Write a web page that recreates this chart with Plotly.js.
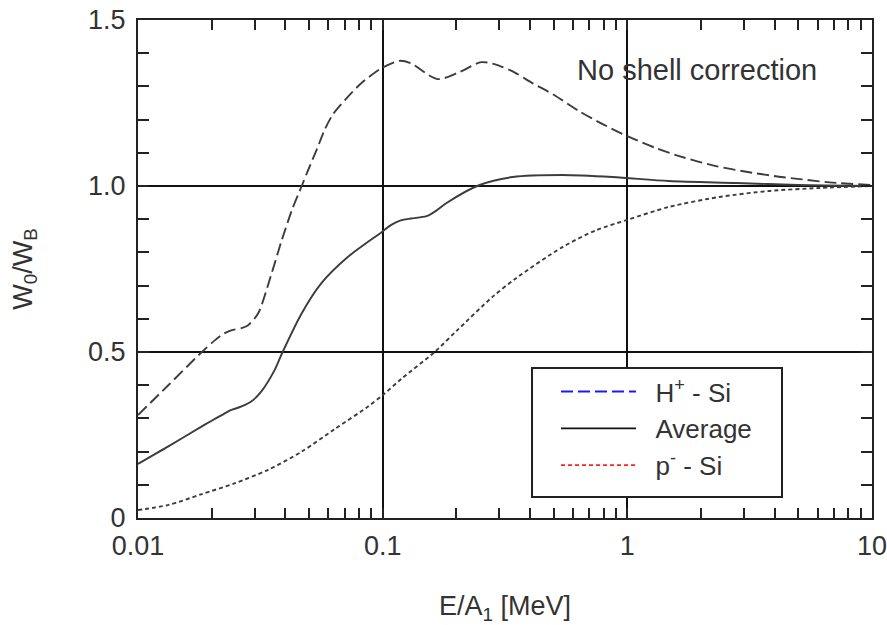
<!DOCTYPE html>
<html><head><meta charset="utf-8">
<script src="https://cdn.plot.ly/plotly-3.0.1.min.js"></script>
<style>body{margin:0;background:#fff}#chart{width:887px;height:625px}</style>
</head><body><div id="chart"></div>
<script>
// H+ - Si (dashed)
const hX = [0.01,0.0133,0.01824,0.0206,0.0225,0.0242,0.0265,0.0281,0.0309,0.0352,0.0387,0.0426,0.0467,0.0494,0.0538,0.058,0.0625,0.0713,0.0828,0.099,0.117,0.13,0.1675,0.206,0.2535,0.30,0.35,0.409,0.5,0.637,0.8,1.0,1.3,1.63,2.3,3.24,4.17,5.18,6.7,10];
const hY = [0.31,0.40,0.50,0.535,0.556,0.566,0.572,0.58,0.615,0.738,0.837,0.928,1.0,1.045,1.11,1.17,1.215,1.265,1.313,1.355,1.377,1.37,1.322,1.343,1.373,1.362,1.34,1.31,1.275,1.225,1.185,1.15,1.115,1.09,1.06,1.04,1.028,1.02,1.011,1.003];
// Average (solid)
const aX = [0.01,0.01325,0.01824,0.02,0.022,0.0238,0.0265,0.0295,0.032,0.0362,0.039,0.0467,0.0563,0.072,0.099,0.108,0.117,0.13,0.151,0.165,0.1825,0.249,0.34,0.543,0.87,1.48,2.79,5.0,10];
const aY = [0.163,0.215,0.276,0.293,0.31,0.324,0.336,0.355,0.382,0.446,0.5,0.617,0.708,0.786,0.861,0.882,0.895,0.902,0.909,0.925,0.949,1.003,1.027,1.033,1.027,1.015,1.009,1.003,1.0];
// p- - Si (dotted)
const pX = [0.01,0.01325,0.01824,0.0249,0.034,0.0467,0.0637,0.0869,0.1,0.1197,0.163,0.202,0.281,0.352,0.543,0.746,1.0,1.48,2.38,3.8,6.08,10];
const pY = [0.024,0.039,0.072,0.105,0.145,0.2,0.268,0.335,0.37,0.42,0.5,0.566,0.666,0.723,0.816,0.867,0.898,0.937,0.967,0.985,0.994,1.0];

const seriesNames = ['H<sup>+</sup> - Si','Average','p<sup>-</sup> - Si'];
const xTickVals = [0.01,0.1,1,10];
const xTickText = ['0.01','0.1','1','10'];
const yTickVals = [0,0.5,1.0,1.5];
const yTickText = ['0','0.5','1.0','1.5'];

const xMinor = [];
for (let d = 0.01; d < 10; d *= 10) for (let k = 2; k <= 9; k++) xMinor.push(+(d*k).toPrecision(3));
const yMinor = [];
for (let k = 1; k < 15; k++) if (k % 5) yMinor.push(k/10);

const curveColor = '#3c3c3c';
const FONT = 'Liberation Sans, Arial, sans-serif';
const TXT = '#333';
const pad = '\u00a0\u00a0';
const traces = [
  {x:hX, y:hY, mode:'lines', line:{color:curveColor, width:1.9, dash:'12px,5px', shape:'spline', smoothing:0.8}, showlegend:false},
  {x:aX, y:aY, mode:'lines', line:{color:curveColor, width:1.9, shape:'spline', smoothing:0.8}, showlegend:false},
  {x:pX, y:pY, mode:'lines', line:{color:curveColor, width:1.9, dash:'4px,3px', shape:'spline', smoothing:0.8}, showlegend:false},
  {x:[null], y:[null], mode:'lines', name:pad+seriesNames[0], line:{color:'#1a1aff', width:1.8, dash:'12px,5px'}},
  {x:[null], y:[null], mode:'lines', name:pad+seriesNames[1], line:{color:'#111', width:1.8}},
  {x:[null], y:[null], mode:'lines', name:pad+seriesNames[2], line:{color:'#ff2020', width:1.8, dash:'4px,3px'}}
];
const layout = {
  width:887, height:625,
  margin:{l:138, r:15, t:20, b:107},
  paper_bgcolor:'#fff', plot_bgcolor:'#fff',
  font:{family:FONT, size:27, color:TXT},
  xaxis:{type:'log', range:[-2,1], tickmode:'array', tickvals:xTickVals, ticktext:xTickText,
    showline:true, linecolor:'#222', linewidth:2, mirror:'ticks', ticks:'inside', ticklen:10, tickwidth:2, tickcolor:'#222',
    showgrid:true, gridcolor:'#111', gridwidth:2, zeroline:false, ticklabelstandoff:3, ticklabeloverflow:'allow',
    minor:{tickmode:'array', tickvals:xMinor, ticks:'inside', ticklen:10, tickwidth:2, tickcolor:'#222', showgrid:false},
    tickfont:{size:27, color:TXT},
    title:{text:'E/A<sub>1</sub> [MeV]', font:{size:27, color:TXT}, standoff:38}},
  yaxis:{range:[0,1.5], tickmode:'array', tickvals:yTickVals, ticktext:yTickText,
    showline:true, linecolor:'#222', linewidth:2, mirror:'ticks', ticks:'inside', ticklen:11, tickwidth:2, tickcolor:'#222',
    showgrid:true, gridcolor:'#111', gridwidth:2, zeroline:false, ticklabelstandoff:5, ticklabeloverflow:'allow',
    minor:{tickmode:'array', tickvals:yMinor, ticks:'inside', ticklen:11, tickwidth:2, tickcolor:'#222', showgrid:false},
    tickfont:{size:27, color:TXT},
    title:{text:'W<sub>0</sub>/W<sub>B</sub>', font:{size:27, color:TXT}, standoff:48}},
  legend:{x:0.5695, y:0.301, xanchor:'left', yanchor:'top', bgcolor:'rgba(0,0,0,0)', borderwidth:0,
    font:{size:26, color:TXT}, itemwidth:75, tracegroupgap:0},
  shapes:[{type:'rect', xref:'paper', yref:'paper', x0:0.5368, x1:0.8774, y0:0.0422, y1:0.3012,
    line:{color:'#222', width:2}, fillcolor:'#fff', layer:'above'}],
  annotations:[{xref:'paper', yref:'paper', x:0.7616, y:0.9, text:'No shell correction', showarrow:false,
    font:{size:29, color:TXT}, xanchor:'center', yanchor:'middle'}]
};
Plotly.newPlot('chart', traces, layout, {displayModeBar:false, staticPlot:true});
</script></body></html>
